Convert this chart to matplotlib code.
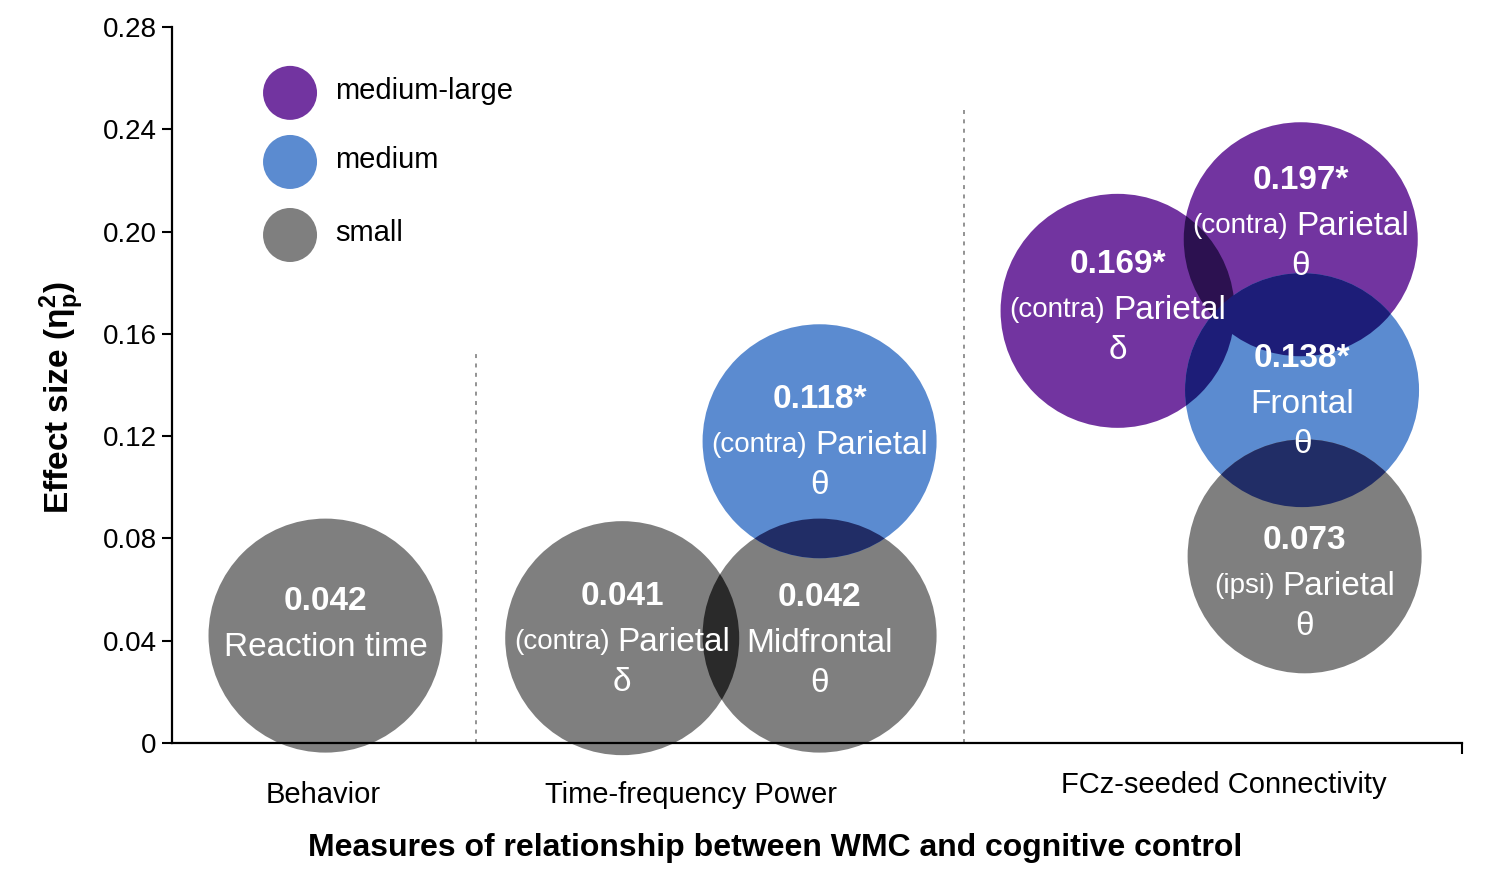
import matplotlib
matplotlib.use('Agg')
import matplotlib.pyplot as plt
from matplotlib.patches import Ellipse
from matplotlib.transforms import blended_transform_factory

plt.rcParams['font.family'] = ['Liberation Sans', 'DejaVu Sans']
plt.rcParams['mathtext.fontset'] = 'custom'
plt.rcParams['mathtext.rm'] = 'Liberation Sans'
plt.rcParams['mathtext.bf'] = 'Liberation Sans:bold'
plt.rcParams['mathtext.it'] = 'Liberation Sans:italic'

# ---------------- data ----------------
effect_values = [0.042, 0.041, 0.042, 0.118, 0.169, 0.197, 0.138, 0.073]
value_labels = ['0.042', '0.041', '0.042', '0.118*', '0.169*', '0.197*', '0.138*', '0.073']
hemispheres = ['', '(contra)', '', '(contra)', '(contra)', '(contra)', '', '(ipsi)']
regions = ['Reaction time', 'Parietal', 'Midfrontal', 'Parietal', 'Parietal',
           'Parietal', 'Frontal', 'Parietal']
bands = ['', 'δ', 'θ', 'θ', 'δ', 'θ', 'θ', 'θ']
size_class = ['small', 'small', 'small', 'medium', 'medium-large',
              'medium-large', 'medium', 'small']
x_pos = [1.19, 3.49, 5.02, 5.02, 7.33, 8.75, 8.76, 8.78]

group_names = ['Behavior', 'Time-frequency Power', 'FCz-seeded Connectivity']
group_x = [1.17, 4.02, 8.15]
separator_x = [2.36, 6.14]
separator_top = [0.154, 0.2475]

legend_classes = ['medium-large', 'medium', 'small']
yticks = [0, 0.04, 0.08, 0.12, 0.16, 0.20, 0.24, 0.28]
ytick_labels = ['0', '0.04', '0.08', '0.12', '0.16', '0.20', '0.24', '0.28']

# ---------------- style / layout ----------------
class_colors = {'medium-large': '#7234a0', 'medium': '#5b8bd0', 'small': '#7f7f7f'}
overlap_colors = {
    frozenset(['small']): '#2a2a2a',
    frozenset(['small', 'medium']): '#212d66',
    frozenset(['medium', 'medium-large']): '#1d1d78',
    frozenset(['medium-large']): '#2c1150',
    frozenset(['small', 'medium-large']): '#2a1a3a',
}
text_shift_px = [8, 1, 4, 1, -4, -16, 11, 27]
group_label_y = [-0.0726, -0.0726, -0.0587]
R_PX = 117
DPI = 100

fig = plt.figure(figsize=(15, 8.88), dpi=DPI)
ax = fig.add_axes([172 / 1500, 145 / 888, 1290 / 1500, 716 / 888])
ax.set_xlim(0, 10)
ax.set_ylim(0, 0.28)

# axes styling
for s in ['top', 'right']:
    ax.spines[s].set_visible(False)
for s in ['left', 'bottom']:
    ax.spines[s].set_linewidth(1.6)
    ax.spines[s].set_zorder(3)
ax.set_yticks(yticks)
ax.set_yticklabels(ytick_labels)
ax.set_xticks([10])
ax.set_xticklabels([''])
ax.tick_params(axis='y', labelsize=20, length=7, width=1.5, pad=4)
ax.tick_params(axis='x', length=8, width=1.5)

# circle radius in data units
p0 = ax.transData.transform((0, 0))
p1 = ax.transData.transform((1, 0.1))
rx = R_PX / (p1[0] - p0[0])
ry = R_PX / ((p1[1] - p0[1]) / 0.1)

# separators
for sx, st in zip(separator_x, separator_top):
    ax.vlines(sx, 0, st, colors='#8a8a8a', linestyles=(0, (2.2, 3)), lw=1.3, zorder=0.5)

# base circles
patches = []
for x, y, c in zip(x_pos, effect_values, size_class):
    e = Ellipse((x, y), 2 * rx, 2 * ry, facecolor=class_colors[c], edgecolor='none',
                zorder=1, clip_on=False)
    ax.add_patch(e)
    patches.append(e)

# overlaps
n = len(x_pos)
for i in range(n):
    for j in range(i + 1, n):
        pi = ax.transData.transform((x_pos[i], effect_values[i]))
        pj = ax.transData.transform((x_pos[j], effect_values[j]))
        d = ((pi[0] - pj[0]) ** 2 + (pi[1] - pj[1]) ** 2) ** 0.5
        if d < 2 * R_PX:
            col = overlap_colors[frozenset([size_class[i], size_class[j]])]
            ov = Ellipse((x_pos[i], effect_values[i]), 2 * rx, 2 * ry, facecolor=col,
                         edgecolor='none', zorder=1.5)
            ax.add_patch(ov)
            ov.set_clip_path(patches[j])

# circle texts
fig.canvas.draw()
renderer = fig.canvas.get_renderer()
PT = 72 / DPI
big = 24
small_fs = 20
line_offsets = {'value': -46, 'label': 0, 'band': 40}


def place(txt, x, y, dx_px, dy_px, fs, weight='normal', ha='center'):
    # dy_px: vertical centre of caps, downward positive
    base = -(dy_px) - 0.36 * fs / PT
    return ax.annotate(txt, xy=(x, y), xytext=(dx_px * PT, base * PT),
                       textcoords='offset points', ha=ha, va='baseline',
                       fontsize=fs, fontweight=weight, color='white', zorder=5,
                       annotation_clip=False)


for k in range(n):
    x, y = x_pos[k], effect_values[k]
    sh = text_shift_px[k]
    place(value_labels[k], x, y, 0, line_offsets['value'] + sh, big, 'bold')
    ly = line_offsets['label'] + sh
    if hemispheres[k]:
        t1 = ax.text(0, 0, hemispheres[k], fontsize=small_fs)
        t2 = ax.text(0, 0, regions[k], fontsize=big)
        w1 = t1.get_window_extent(renderer).width
        w2 = t2.get_window_extent(renderer).width
        t1.remove()
        t2.remove()
        gap = 0.24 * big / PT
        total = w1 + gap + w2
        start = -total / 2
        place(hemispheres[k], x, y, start, ly, small_fs, ha='left')
        place(regions[k], x, y, start + w1 + gap, ly, big, ha='left')
    else:
        place(regions[k], x, y, 0, ly, big)
    if bands[k]:
        place(bands[k], x, y, 0, line_offsets['band'] + sh, big)

# legend
leg_y = [0.908, 0.8115, 0.7095]
for cls, ly in zip(legend_classes, leg_y):
    ax.scatter([0.0915], [ly], s=(54 * PT) ** 2, color=class_colors[cls],
               transform=ax.transAxes, clip_on=False, zorder=4, edgecolors='none')
    ax.text(0.1264, ly + 0.003, cls, transform=ax.transAxes, fontsize=21,
            ha='left', va='center', color='black')

# group labels
btrans = blended_transform_factory(ax.transData, ax.transAxes)
for gx, gy, name in zip(group_x, group_label_y, group_names):
    ax.text(gx, gy, name, transform=btrans, ha='center', va='center', fontsize=21)

# axis labels
ax.text(0.4674, -0.1466, 'Measures of relationship between WMC and cognitive control',
        transform=ax.transAxes, ha='center', va='center', fontsize=23, fontweight='bold')
ax.text(-0.0853, 0.483, r'Effect size ($\mathbf{η}^{\mathbf{2}}_{\mathbf{p}}$)',
        transform=ax.transAxes, ha='center', va='center', fontsize=24,
        fontweight='bold', rotation=90)

fig.savefig('out.png', dpi=DPI)
